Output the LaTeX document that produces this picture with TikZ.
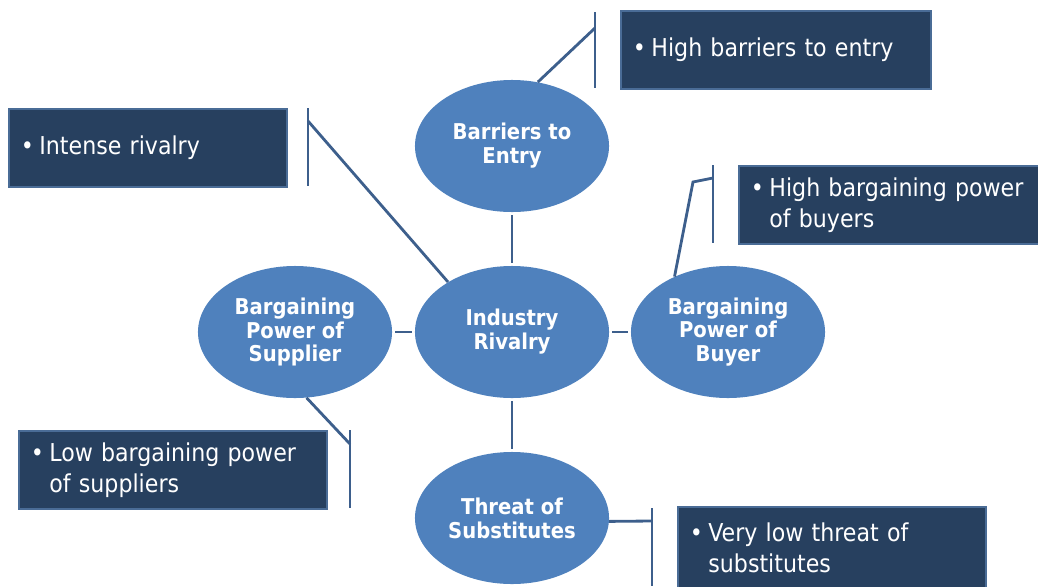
\documentclass[tikz,border=0pt]{standalone}
\usepackage{fontspec}
\setmainfont{DejaVu Sans Condensed}
\usetikzlibrary{shapes, positioning}

\definecolor{ovalblue}{HTML}{4F81BD}
\definecolor{boxnavy}{HTML}{27405F}
\definecolor{boxedge}{HTML}{4A6C96}
\definecolor{linkblue}{HTML}{3D5F8C}
\newcommand{\bul}{•\hspace{0.22em}}

\begin{document}
\begin{tikzpicture}[x=0.025cm, y=-0.025cm,
    force/.style={ellipse, fill=ovalblue, minimum width=4.85cm, minimum height=3.3cm,
        inner sep=0pt, align=center, text=white,
        font=\bfseries\fontsize{15.5}{17}\selectfont},
    note/.style={draw=boxedge, line width=1.3pt, fill=boxnavy, text=white,
        anchor=north west, minimum height=1.95cm, text width=#1, align=left,
        inner xsep=0.3cm, font=\fontsize{17.5}{22}\selectfont},
    link/.style={draw=linkblue, line width=2pt}]
    \useasboundingbox (0, 0) rectangle (1038, 586);

    % the five forces
    \node (Entry) [force] at (512, 146) {Barriers to\\Entry};
    \node (Rivalry) [force] at (512, 332) {Industry\\Rivalry};
    \node (Supplier) [force] at (295, 332) {Bargaining\\Power of\\Supplier};
    \node (Buyer) [force] at (728, 332) {Bargaining\\Power of\\Buyer};
    \node (Threat) [force] at (512, 518) {Threat of\\Substitutes};

    \draw[link, shorten <=2pt, shorten >=2pt] (Entry) -- (Rivalry);
    \draw[link, shorten <=2pt, shorten >=2pt] (Supplier) -- (Rivalry);
    \draw[link, shorten <=2pt, shorten >=2pt] (Rivalry) -- (Buyer);
    \draw[link, shorten <=2pt, shorten >=2pt] (Rivalry) -- (Threat);

    % notes
    \node (EntryNote) [note=7.15cm] at (620, 10) {\bul High barriers to entry};
    \node (RivalryNote) [note=6.35cm] at (8, 108) {\bul Intense rivalry};
    \node (BuyerNote) [note=7.2cm] at (738, 165) {\bul High bargaining power\\\phantom{\bul}of buyers};
    \node (SupplierNote) [note=7.1cm] at (18, 430) {\bul Low bargaining power\\\phantom{\bul}of suppliers};
    \node (ThreatNote) [note=7.1cm, minimum height=2.05cm] at (677, 506) {\bul Very low threat of\\\phantom{\bul}substitutes};

    % brackets
    \coordinate (EntryTop) at (595, 12);
    \coordinate (EntryBot) at (595, 88);
    \coordinate (EntryKnee) at (595, 28);
    \draw[link] (EntryTop) -- (EntryBot);
    \draw[link] (Entry.68) -- (EntryKnee);

    \coordinate (RivalryTop) at (308, 108);
    \coordinate (RivalryBot) at (308, 186);
    \coordinate (RivalryKnee) at (308, 121);
    \draw[link] (RivalryTop) -- (RivalryBot);
    \draw[link] (Rivalry.142) -- (RivalryKnee);

    \coordinate (BuyerTop) at (713, 165);
    \coordinate (BuyerBot) at (713, 243);
    \coordinate (BuyerKnee) at (713, 178);
    \coordinate (BuyerBend) at (693, 182);
    \draw[link] (BuyerTop) -- (BuyerBot);
    \draw[link] (Buyer.134) -- (BuyerBend) -- (BuyerKnee);

    \coordinate (SupplierTop) at (350, 430);
    \coordinate (SupplierBot) at (350, 508);
    \coordinate (SupplierKnee) at (350, 444);
    \draw[link] (SupplierTop) -- (SupplierBot);
    \draw[link] (Supplier.-80) -- (SupplierKnee);

    \coordinate (ThreatTop) at (652, 508);
    \coordinate (ThreatBot) at (652, 586);
    \coordinate (ThreatKnee) at (652, 521);
    \draw[link] (ThreatTop) -- (ThreatBot);
    \draw[link] (Threat.-2) -- (ThreatKnee);
\end{tikzpicture}
\end{document}
